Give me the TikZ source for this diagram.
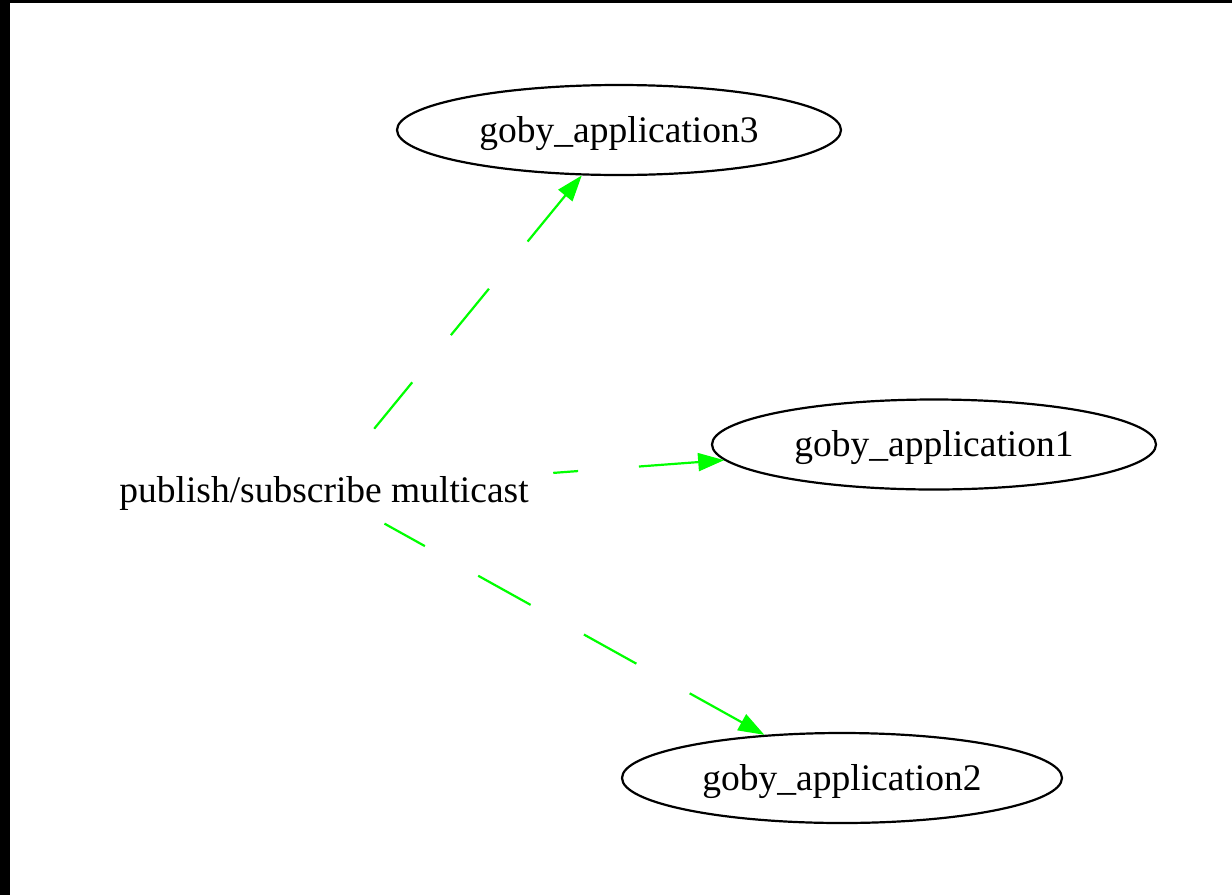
\documentclass[tikz,border=0pt]{standalone}
\usepackage{fontspec}
\setmainfont{Liberation Serif}
\usetikzlibrary{arrows.meta,shapes.geometric}
\begin{document}
\begin{tikzpicture}[x=1pt,y=-1pt]
\tikzset{
  lblfont/.style={font=\fontsize{37.5}{44}\selectfont},
  app/.style={ellipse, draw=black, line width=2.2pt, inner sep=0pt, lblfont,
    minimum width=444pt, minimum height=90pt, text height=24pt, text depth=0pt},
  lbl/.style={inner sep=0pt, lblfont, text height=24pt, text depth=0pt},
  edge/.style={draw=green, line width=2.2pt, dash pattern=on 60pt off 61pt,
    {Triangle[length=26pt,width=18pt]}-}
}
\useasboundingbox (0,0) rectangle (1232,895);
\fill[black] (0,0) rectangle (10,895);
\fill[black] (0,0) rectangle (1232,3);

\node[lbl] (pub) at (324,490) {publish/subscribe multicast};
\node[app] (a3) at (619,130) {goby\_application3};
\node[app] (a1) at (934,444.5) {goby\_application1};
\node[app, minimum width=440pt] (a2) at (842,778) {goby\_application2};

\draw[edge, shorten >=75.3pt] (a3) -- (pub.center);
\draw[edge, shorten >=229.9pt] (a1) -- (pub.center);
\draw[edge, shorten >=69.2pt] (a2) -- (pub.center);
\end{tikzpicture}
\end{document}
